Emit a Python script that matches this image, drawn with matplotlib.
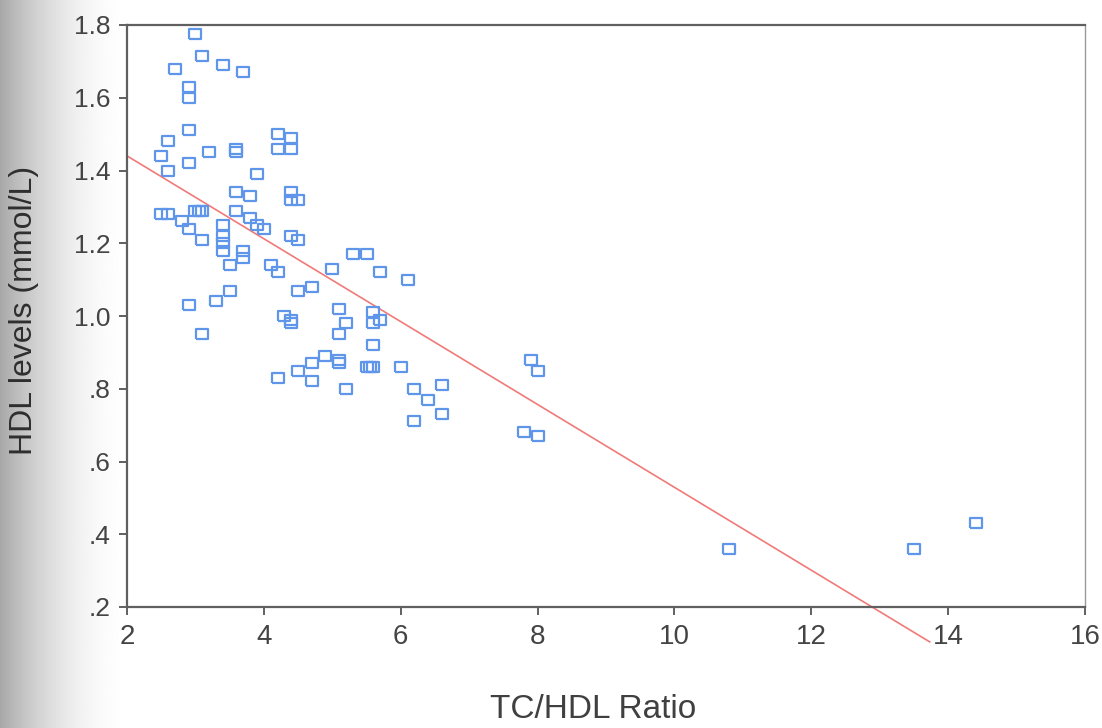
import numpy as np
import matplotlib
matplotlib.use("Agg")
import matplotlib.pyplot as plt

# ---- data ----
tc_hdl = [3.0, 3.1, 2.7, 3.4, 3.7, 2.9, 2.9, 2.9, 2.5, 2.6, 2.6, 2.9, 3.2, 3.6, 3.6,
          4.2, 4.4, 4.2, 4.4, 3.9, 3.6, 3.8, 4.4, 4.4, 4.5, 3.6, 2.5, 2.6, 3.0, 3.05,
          3.1, 2.8, 2.9, 3.4, 3.8, 3.9, 4.0, 3.1, 3.4, 3.4, 3.4, 4.4, 4.5, 3.5, 3.7,
          3.7, 4.1, 4.2, 5.3, 5.5, 5.0, 5.7, 6.1, 4.7, 4.5, 3.5, 2.9, 3.3, 5.1, 5.6,
          5.7, 4.3, 4.4, 4.4, 5.2, 5.6, 3.1, 5.1, 5.6, 4.9, 5.1, 5.1, 4.7, 4.5, 5.5,
          5.55, 5.6, 6.0, 4.2, 4.7, 5.2, 6.2, 6.6, 6.4, 6.6, 6.2, 7.9, 8.0, 7.8, 8.0,
          10.8, 13.5, 14.4]
hdl = [1.775, 1.715, 1.68, 1.69, 1.67, 1.63, 1.60, 1.51, 1.44, 1.48, 1.40, 1.42, 1.45, 1.46, 1.45,
       1.50, 1.49, 1.46, 1.46, 1.39, 1.34, 1.33, 1.34, 1.32, 1.32, 1.29, 1.28, 1.28, 1.29, 1.29,
       1.29, 1.26, 1.24, 1.25, 1.27, 1.25, 1.24, 1.21, 1.22, 1.20, 1.18, 1.22, 1.21, 1.14, 1.18,
       1.16, 1.14, 1.12, 1.17, 1.17, 1.13, 1.12, 1.10, 1.08, 1.07, 1.07, 1.03, 1.04, 1.02, 1.01,
       0.99, 1.00, 0.99, 0.98, 0.98, 0.98, 0.95, 0.95, 0.92, 0.89, 0.88, 0.87, 0.87, 0.85, 0.86,
       0.86, 0.86, 0.86, 0.83, 0.82, 0.80, 0.80, 0.81, 0.77, 0.73, 0.71, 0.88, 0.85, 0.68, 0.67,
       0.36, 0.36, 0.43]

fit_intercept = 1.668
fit_slope = -0.1139
fit_x = [2.0, 13.73]

x_ticks = [2, 4, 6, 8, 10, 12, 14, 16]
y_ticks = [0.2, 0.4, 0.6, 0.8, 1.0, 1.2, 1.4, 1.6, 1.8]
y_tick_labels = [".2", ".4", ".6", ".8", "1.0", "1.2", "1.4", "1.6", "1.8"]

# ---- figure ----
W, H = 1102, 728
fig = plt.figure(figsize=(W / 100, H / 100), dpi=100)
fig.patch.set_facecolor("white")

# scanned-page gray shading on the left edge
bg = fig.add_axes([0, 0, 0.12, 1], zorder=-10)
g = np.linspace(0, 1, 200)
shade = 0.66 + 0.34 * (1 - (1 - g) ** 2.0)
bg.imshow(np.tile(shade, (10, 1)), cmap="gray", vmin=0, vmax=1,
          aspect="auto", extent=[0, 1, 0, 1], interpolation="bilinear")
bg.axis("off")

left, right, top, bottom = 127, 1085, 25, 607
ax = fig.add_axes([left / W, 1 - bottom / H, (right - left) / W, (bottom - top) / H])
ax.set_facecolor("white")

rect = [(-1.25, -1), (1.25, -1), (1.25, 1), (-1.25, 1), (-1.25, -1)]
ax.plot(tc_hdl, hdl, linestyle="none", marker=rect, markersize=9,
        markerfacecolor="none", markeredgecolor="#6096ea", markeredgewidth=1.6, zorder=3)

fx = np.array(fit_x)
ax.plot(fx, fit_intercept + fit_slope * fx, color="#f07a78", linewidth=1.2,
        clip_on=False, zorder=2)

ax.set_xlim(2, 16)
ax.set_ylim(0.2, 1.8)
ax.set_xticks(x_ticks)
ax.set_yticks(y_ticks)
ax.set_yticklabels(y_tick_labels)

spine_c = "#606060"
for s in ax.spines.values():
    s.set_color(spine_c)
    s.set_linewidth(1.6)
ax.spines["right"].set_color("#9a9a9a")
ax.spines["right"].set_linewidth(1.0)

ax.tick_params(axis="both", direction="out", length=6, width=1.4, color=spine_c,
               labelcolor="#444444")
ax.tick_params(axis="y", labelsize=19, pad=6)
ax.tick_params(axis="x", labelsize=20, pad=6)
for lab in ax.get_xticklabels() + ax.get_yticklabels():
    lab.set_fontfamily(["Liberation Sans", "DejaVu Sans"])

fig.text(593 / W, 1 - 710 / H, "TC/HDL Ratio", ha="center", va="center",
         fontsize=24, color="#404040", family=["Liberation Sans", "DejaVu Sans"])
fig.text(24 / W, 1 - 310 / H, "HDL levels (mmol/L)", ha="center", va="center",
         rotation=90, fontsize=23, color="#2e2e2e", family=["Liberation Sans", "DejaVu Sans"])

fig.savefig("out.png", dpi=100)
